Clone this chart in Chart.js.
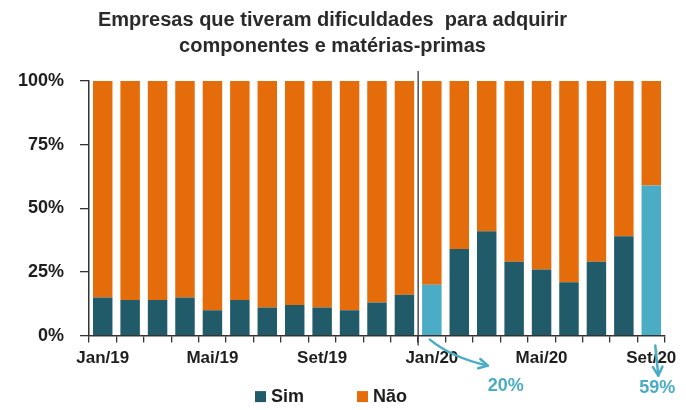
<!DOCTYPE html>
<html><head><meta charset="utf-8">
<script src="https://cdn.jsdelivr.net/npm/chart.js@4/dist/chart.umd.min.js"></script>
<style>html,body{margin:0;padding:0;background:#fff}canvas{display:block}</style>
</head><body>
<canvas id="c" width="686" height="410"></canvas>
<script>
const categories = ['Jan/19','Fev/19','Mar/19','Abr/19','Mai/19','Jun/19','Jul/19','Ago/19','Set/19','Out/19','Nov/19','Dez/19','Jan/20','Fev/20','Mar/20','Abr/20','Mai/20','Jun/20','Jul/20','Ago/20','Set/20'];
const simValues = [15,14,14,15,10,14,11,12,11,10,13,16,20,34,41,29,26,21,29,39,59];
const naoValues = [85,86,86,85,90,86,89,88,89,90,87,84,80,66,59,71,74,79,71,61,41];
const highlightIdx = [12,20];
const annotations = [{idx:12, text:'20%'},{idx:20, text:'59%'}];
const yTicks = [0,25,50,75,100];
const seriesNames = ['Sim','Não'];

const SIM = '#215A69', NAO = '#E46C0A', HIL = '#4BACC6', TXT = '#1e1e1e';
const FONT = "'Liberation Sans','Arial',sans-serif";

const extras = {
  id:'extras',
  afterDatasetsDraw(chart){
    const {ctx, scales:{x}, chartArea:a} = chart;
    ctx.save();
    const xs = (x.getPixelForValue(11)+x.getPixelForValue(12))/2;
    ctx.strokeStyle='#333'; ctx.lineWidth=1.3;
    ctx.beginPath(); ctx.moveTo(xs, a.top-10); ctx.lineTo(xs, a.bottom+10); ctx.stroke();
    ctx.restore();
  },
  afterDraw(chart){
    const {ctx, scales:{x}, chartArea:a} = chart;
    ctx.save();
    ctx.strokeStyle=HIL; ctx.fillStyle=HIL; ctx.lineWidth=2.5; ctx.lineCap='round'; ctx.lineJoin='round';
    const head=(x1,y1,x2,y2)=>{
      const ang=Math.atan2(y2-y1,x2-x1), L=10;
      ctx.beginPath();
      ctx.moveTo(x2-L*Math.cos(ang-0.5), y2-L*Math.sin(ang-0.5));
      ctx.lineTo(x2,y2);
      ctx.lineTo(x2-L*Math.cos(ang+0.5), y2-L*Math.sin(ang+0.5));
      ctx.stroke();
    };
    const x1=x.getPixelForValue(annotations[0].idx);
    ctx.beginPath(); ctx.moveTo(x1-2,a.bottom+4); ctx.quadraticCurveTo(x1+20,a.bottom+22,x1+56,a.bottom+30); ctx.stroke();
    head(x1+30,a.bottom+24,x1+56,a.bottom+30);
    const x2=x.getPixelForValue(annotations[1].idx);
    ctx.beginPath(); ctx.moveTo(x2+4,a.bottom+10); ctx.lineTo(x2+7,a.bottom+40); ctx.stroke();
    head(x2+6,a.bottom+25,x2+7,a.bottom+40);
    ctx.font="bold 18px "+FONT; ctx.textAlign='center'; ctx.textBaseline='middle';
    ctx.fillText(annotations[0].text, x1+74, a.bottom+50);
    ctx.fillText(annotations[1].text, x2+6, a.bottom+52);
    const ly = a.bottom+61, lx=[255,357], cols=[SIM,NAO];
    ctx.font="bold 18px "+FONT; ctx.textAlign='left';
    seriesNames.forEach((n,i)=>{
      ctx.fillStyle=cols[i]; ctx.fillRect(lx[i], ly-5.5, 11, 11);
      ctx.fillStyle=TXT; ctx.fillText(n, lx[i]+16, ly+0.5);
    });
    ctx.restore();
  }
};

new Chart(document.getElementById('c'), {
  type:'bar',
  data:{
    labels:categories,
    datasets:[
      {label:seriesNames[0], data:simValues, backgroundColor:simValues.map((v,i)=>highlightIdx.includes(i)?HIL:SIM), barPercentage:0.71, categoryPercentage:1},
      {label:seriesNames[1], data:naoValues, backgroundColor:NAO, barPercentage:0.71, categoryPercentage:1}
    ]
  },
  options:{
    responsive:false, animation:false,
    layout:{padding:{left:0,right:21,top:0,bottom:35}},
    plugins:{
      title:{display:true, text:['Empresas que tiveram dificuldades  para adquirir','componentes e matérias-primas'],
        color:'#2a2a2a', font:{family:FONT, size:20, weight:'bold', lineHeight:1.3}, padding:{top:7,bottom:22}},
      legend:{display:false},
      tooltip:{enabled:false}
    },
    scales:{
      x:{stacked:true, grid:{offset:true, drawOnChartArea:false, drawTicks:true, tickLength:7, color:'#333', lineWidth:1.3},
        border:{color:'#333', width:1.5},
        ticks:{autoSkip:false, maxRotation:0, color:TXT, font:{family:FONT,size:17,weight:'bold'}, padding:6,
          callback:(v,i)=> i%4===0 ? categories[i] : ''}},
      y:{stacked:true, min:0, max:100, afterFit(s){s.width=89;},
        afterBuildTicks(s){s.ticks=yTicks.map(v=>({value:v}));},
        grid:{drawOnChartArea:false, tickLength:9, color:'#333', lineWidth:1.3},
        border:{color:'#333', width:1.5},
        ticks:{color:TXT, font:{family:FONT,size:18,weight:'bold'}, padding:16, callback:v=>v+'%'}}
    }
  },
  plugins:[extras]
});
</script>
</body></html>
